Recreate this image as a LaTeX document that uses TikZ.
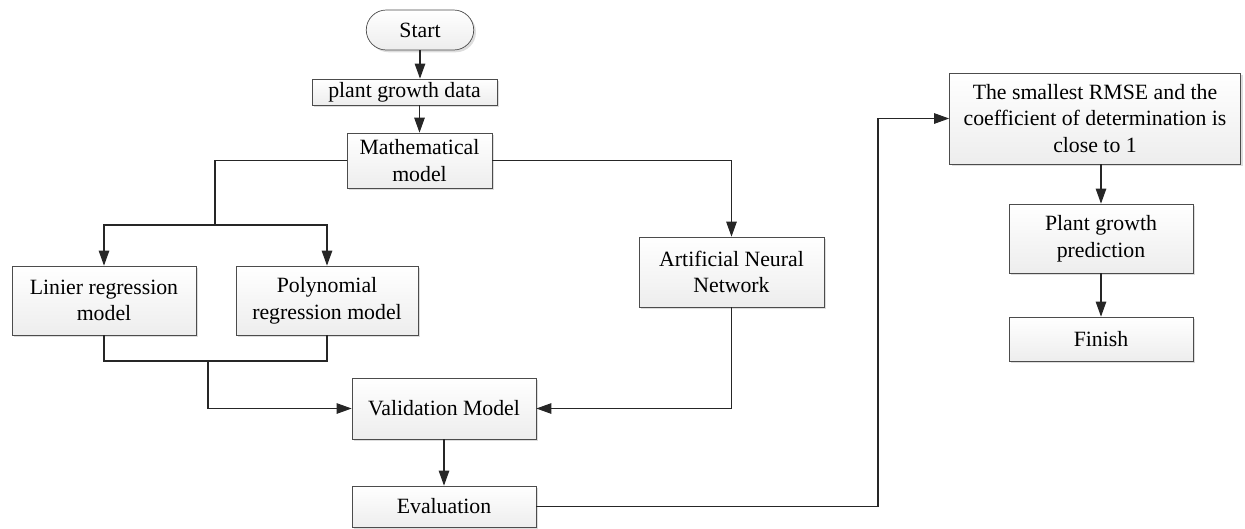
\documentclass[tikz,border=0pt]{standalone}
\usepackage{fontspec}
\setmainfont{Liberation Serif}
\usetikzlibrary{arrows.meta,shapes.misc,shadows}

\begin{document}
\begin{tikzpicture}[
  font=\fontsize{12.4}{15.2}\selectfont,
  box/.style={draw=black!70, rectangle, align=center, inner sep=1pt,
    top color=white, bottom color=gray!14,
    drop shadow={shadow xshift=0.45mm, shadow yshift=-0.45mm, fill=gray!45, opacity=.6}},
  startbox/.style={box, rounded rectangle},
  conn/.style={draw=black!85, line width=0.6pt},
  arr/.style={conn, -{Triangle[length=3mm,width=2.1mm]}}]
\useasboundingbox (0,0) rectangle (24.9,-10.56);
\node[startbox, minimum width=2.22cm, minimum height=0.8cm] at (8.4,-0.6) (start) {Start};
\node[box, minimum width=3.7cm, minimum height=0.52cm] at (8.09,-1.84) (data) {plant growth data};
\node[box, minimum width=2.9cm, minimum height=1.1cm] at (8.39,-3.21) (math) {Mathematical\\model};
\node[box, minimum width=3.68cm, minimum height=1.38cm] at (2.08,-6.01) (lin) {Linier regression\\model};
\node[box, minimum width=3.64cm, minimum height=1.38cm] at (6.54,-6.01) (poly) {Polynomial\\regression model};
\node[box, minimum width=3.7cm, minimum height=1.4cm] at (14.63,-5.44) (ann) {Artificial Neural\\Network};
\node[box, minimum width=3.68cm, minimum height=1.22cm] at (8.88,-8.17) (valid) {Validation Model};
\node[box, minimum width=3.68cm, minimum height=0.82cm] at (8.88,-10.13) (eval) {Evaluation};
\node[box, minimum width=5.82cm, minimum height=1.82cm] at (21.9,-2.37) (rmse) {The smallest RMSE and the\\coefficient of determination is\\close to 1};
\node[box, minimum width=3.68cm, minimum height=1.38cm] at (22.02,-4.77) (pred) {Plant growth\\prediction};
\node[box, minimum width=3.68cm, minimum height=0.88cm] at (22.02,-6.78) (finish) {Finish};

\coordinate (split) at (4.3,-4.5);
\coordinate (join) at (4.16,-7.22);
\coordinate (bend) at (17.56,0);

\draw[arr] (start.south) -- (start.south |- data.north);
\draw[arr] (math.north |- data.south) -- (math.north);
\draw[conn] (math.west) -| (split);
\draw[arr] (split) -| (lin.north);
\draw[arr] (split) -| (poly.north);
\draw[arr] (math.east) -| (ann.north);
\draw[conn] (lin.south) |- (join);
\draw[conn] (poly.south) |- (join);
\draw[arr] (join) |- (valid.west);
\draw[arr] (ann.south) |- (valid.east);
\draw[arr] (valid.south) -- (eval.north);
\draw[arr] (eval.east) -| (bend |- rmse.west) -- (rmse.west);
\draw[arr] (rmse.south -| pred.north) -- (pred.north);
\draw[arr] (pred.south) -- (finish.north);
\end{tikzpicture}
\end{document}
